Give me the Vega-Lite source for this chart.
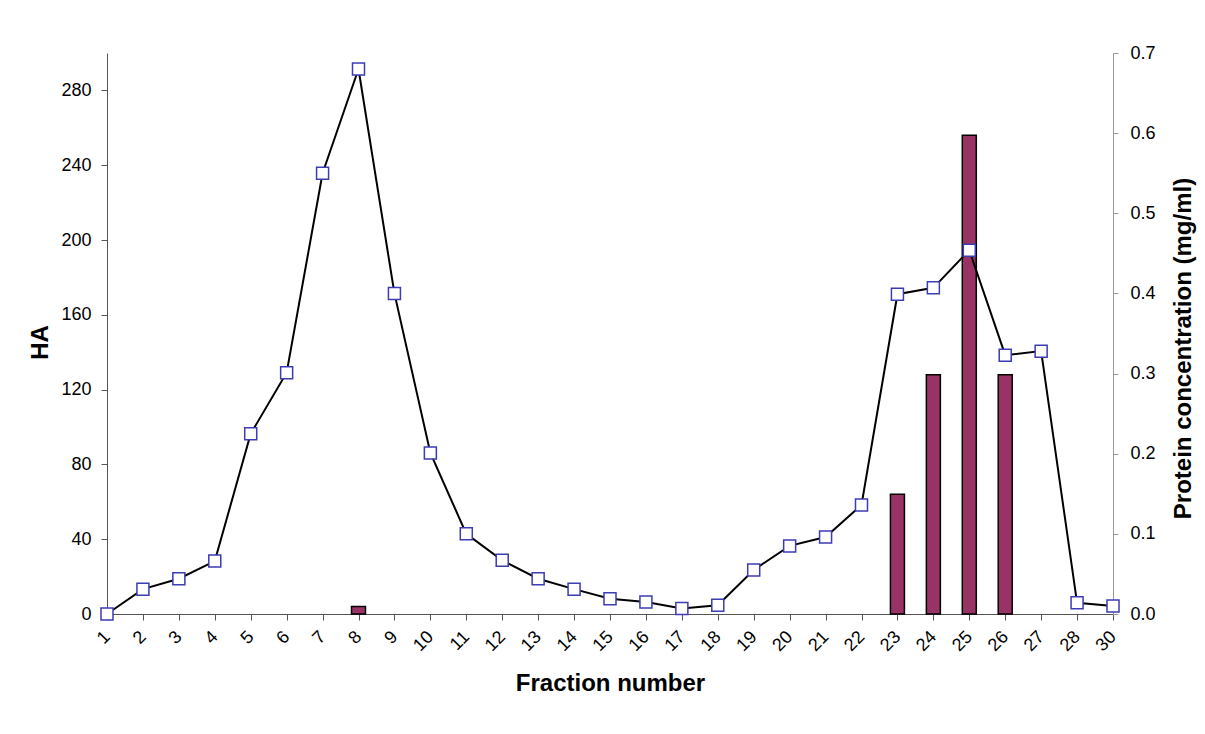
{
  "$schema": "https://vega.github.io/schema/vega-lite/v6.json",
  "autosize": {"type": "none"},
  "width": 1006,
  "height": 561,
  "padding": {"left": 107, "top": 53, "right": 92, "bottom": 120},
  "background": "white",
  "config": {
    "view": {"stroke": null},
    "font": "Liberation Sans",
    "axis": {"labelFont": "Liberation Sans", "titleFont": "Liberation Sans", "labelColor": "#000", "titleColor": "#000", "grid": false}
  },
  "data": {
    "values": [
      {"fraction": 1, "protein": 0.0},
      {"fraction": 2, "protein": 0.031},
      {"fraction": 3, "protein": 0.044},
      {"fraction": 4, "protein": 0.066},
      {"fraction": 5, "protein": 0.225},
      {"fraction": 6, "protein": 0.301},
      {"fraction": 7, "protein": 0.55},
      {"fraction": 8, "protein": 0.68, "ha": 4},
      {"fraction": 9, "protein": 0.4},
      {"fraction": 10, "protein": 0.201},
      {"fraction": 11, "protein": 0.1},
      {"fraction": 12, "protein": 0.067},
      {"fraction": 13, "protein": 0.044},
      {"fraction": 14, "protein": 0.031},
      {"fraction": 15, "protein": 0.019},
      {"fraction": 16, "protein": 0.015},
      {"fraction": 17, "protein": 0.007},
      {"fraction": 18, "protein": 0.011},
      {"fraction": 19, "protein": 0.055},
      {"fraction": 20, "protein": 0.085},
      {"fraction": 21, "protein": 0.096},
      {"fraction": 22, "protein": 0.136},
      {"fraction": 23, "protein": 0.399, "ha": 64},
      {"fraction": 24, "protein": 0.407, "ha": 128},
      {"fraction": 25, "protein": 0.454, "ha": 256},
      {"fraction": 26, "protein": 0.323, "ha": 128},
      {"fraction": 27, "protein": 0.328},
      {"fraction": 28, "protein": 0.014},
      {"fraction": 30, "protein": 0.01}
    ]
  },
  "encoding": {
    "x": {
      "field": "fraction",
      "type": "ordinal",
      "scale": {"type": "point", "padding": 0},
      "axis": {
        "title": "Fraction number",
        "titleFontSize": 24,
        "titleFontWeight": "bold",
        "titleBaseline": "middle",
        "titleY": 69,
        "labelAngle": -45,
        "labelAlign": "right",
        "labelBaseline": "middle",
        "labelFontSize": 18,
        "labelPadding": 14,
        "tickSize": 6,
        "domainColor": "#555",
        "tickColor": "#555"
      }
    }
  },
  "layer": [
    {
      "transform": [{"filter": "datum.ha != null"}],
      "mark": {"type": "bar", "width": 14, "fill": "#993366", "stroke": "#000", "strokeWidth": 1.5},
      "encoding": {
        "y": {
          "field": "ha",
          "type": "quantitative",
          "scale": {"domain": [0, 300], "nice": false},
          "axis": {
            "title": "HA",
            "titleFontSize": 24,
            "titleFontWeight": "bold",
            "titleAngle": 270,
            "titleBaseline": "middle",
            "titleX": -67,
            "titleY": 289,
            "values": [0, 40, 80, 120, 160, 200, 240, 280],
            "labelFontSize": 18,
            "labelPadding": 10,
            "tickSize": 6,
            "domainColor": "#555",
            "tickColor": "#555"
          }
        }
      }
    },
    {
      "mark": {
        "type": "line",
        "color": "#000",
        "strokeWidth": 2,
        "point": {"shape": "square", "filled": true, "fill": "white", "stroke": "#3c3cb4", "strokeWidth": 1.5, "size": 144}
      },
      "encoding": {
        "y": {
          "field": "protein",
          "type": "quantitative",
          "scale": {"domain": [0, 0.7], "nice": false},
          "axis": {
            "orient": "right",
            "title": "Protein concentration (mg/ml)",
            "titleFontSize": 24,
            "titleFontWeight": "bold",
            "titleAngle": 270,
            "titleBaseline": "middle",
            "titleX": 70,
            "titleY": 295,
            "values": [0, 0.1, 0.2, 0.3, 0.4, 0.5, 0.6, 0.7],
            "format": ".1f",
            "labelFontSize": 18,
            "labelPadding": 12,
            "tickSize": 5,
            "domainColor": "#999",
            "tickColor": "#999"
          }
        }
      }
    }
  ],
  "resolve": {"scale": {"y": "independent"}}
}
